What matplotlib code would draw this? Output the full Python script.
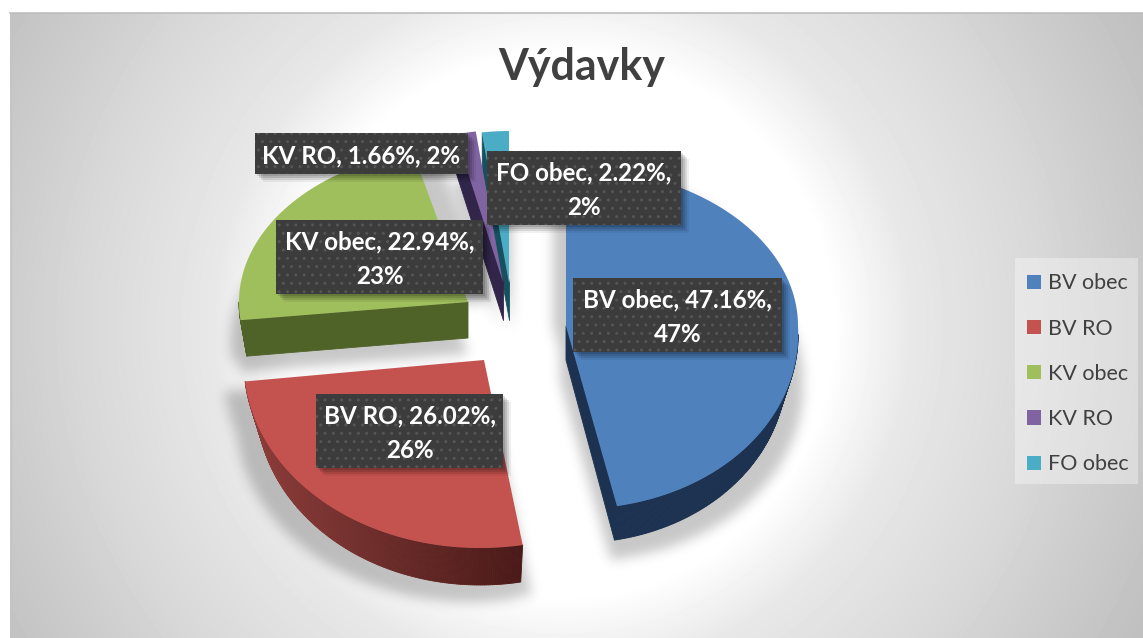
import numpy as np
import matplotlib
matplotlib.use("Agg")
import matplotlib.pyplot as plt
from matplotlib.colors import to_rgb
from matplotlib.collections import PolyCollection
from matplotlib.patches import Polygon, Rectangle, Patch
from matplotlib.path import Path

plt.rcParams['font.family'] = ['Lato', 'DejaVu Sans']

title = 'Výdavky'
categories = ['BV obec', 'BV RO', 'KV obec', 'KV RO', 'FO obec']
shares = [47.16, 26.02, 22.94, 1.66, 2.22]
rounded = [47, 26, 23, 2, 2]

top_colors = ['#4F81BD', '#C4524F', '#9FBF5C', '#8064A2', '#4BACC6']
side_left = ['#1C3250', '#8C3D3A', '#4F6228', '#31254A', '#17505F']
side_right = ['#1C3250', '#4A1A18', '#4F6228', '#31254A', '#17505F']

# apex x, apex y, rx, ry upper, ry lower, lean of the lower half
geometry = [
    (566, 326, 232, 159, 183, 10),
    (484, 360, 240, 170, 188, -4),
    (468, 302, 229, 155, 159, 0),
    (503, 282, 196, 152, 152, 0),
    (509, 283, 196, 152, 152, 0),
]
depths = [34, 37, 36, 38, 37]
pull_in = [0.05, 0.05, 0.028, 0, 0]

# where the soft shadow of each slice is thrown
shadow_offsets = [
    [(-13, 0), (5, 52), (-6, 54)],
    [(-20, 10), (9, 50), (-8, 54)],
    [(24, 0), (-8, 40), (0, 52)],
    [(-3, 48)],
    [(3, 48)],
]

# x0, y0, x1, y1 of the label boxes, and where the text wraps
boxes = [
    (573, 278, 782, 352, True),
    (316, 394, 503, 468, True),
    (276, 220, 483, 294, True),
    (255, 133, 468, 174, False),
    (487, 151, 681, 225, True),
]

W, H = 1143, 638
fig = plt.figure(figsize=(W / 100, H / 100), dpi=100, facecolor='white')
ax = fig.add_axes([0, 0, 1, 1])

# plot area background, white in the middle and grey to the corners
yy, xx = np.mgrid[13:H, 10:W]
r = np.hypot(xx - 562, yy - 325)
bg = np.interp(r, [270, 336, 348, 481, 540, 650], [255, 236, 232, 216, 207, 192]) / 255
ax.imshow(bg, extent=(10, W, H, 13), cmap='gray', vmin=0, vmax=1, zorder=0, aspect='auto')
ax.plot([10, W], [13, 13], color='#bdbdbd', lw=1.2, zorder=1)
ax.plot([10.5, 10.5], [13, H], color='#c4c4c4', lw=1, zorder=1)


def outline(start, stop, geo):
    ax0, ay0, rx, ry_up, ry_dn, lean = geo
    th = np.radians(np.linspace(start, stop, max(int(stop - start) * 2, 8)))
    u, v = np.sin(th), np.cos(th)
    x = ax0 + rx * u + lean * np.clip(-v, 0, None)
    y = ay0 - np.where(v > 0, ry_up, ry_dn) * v
    return np.r_[ax0, x], np.r_[ay0, y]


edges = np.cumsum([0] + shares) * 3.6
slices = [outline(edges[i], edges[i + 1], geometry[i]) for i in range(len(shares))]

# soft shadow under the pie
gy, gx = np.mgrid[0:H, 0:W]
pts = np.c_[gx.ravel() + 0.5, gy.ravel() + 0.5]
mask = np.zeros((H, W))
for (x, y), offs in zip(slices, shadow_offsets):
    for dx, dy in offs:
        mask += Path(np.c_[x + dx, y + dy]).contains_points(pts).reshape(H, W)
mask = np.clip(mask, 0, 1)
fy = np.fft.fftfreq(H)[:, None]
fx = np.fft.rfftfreq(W)[None, :]
sigma = 6
blur = np.fft.irfft2(np.fft.rfft2(mask) * np.exp(-2 * (np.pi * sigma) ** 2 * (fx ** 2 + fy ** 2)), s=(H, W))
rgba = np.zeros((H, W, 4))
rgba[..., 3] = np.clip(blur, 0, 1) * 0.22
ax.imshow(rgba, extent=(0, W, H, 0), zorder=2, aspect='auto')

# slices, far ones first
for z, i in enumerate([4, 3, 2, 1, 0]):
    x, y = slices[i]
    dep = depths[i]
    x_low = x + (x[0] - x) * pull_in[i]
    c0, c1 = np.array(to_rgb(side_left[i])), np.array(to_rgb(side_right[i]))
    quads, cols = [], []
    n = len(x)
    for k in range(n):
        j = (k + 1) % n
        if x[j] >= x[k]:
            continue  # faces away
        quads.append([(x[k], y[k]), (x[j], y[j]), (x_low[j], y[j] + dep), (x_low[k], y[k] + dep)])
        t = ((x[k] + x[j]) / 2 - x.min()) / (x.max() - x.min())
        cols.append(c0 + (c1 - c0) * t)
    ax.add_collection(PolyCollection(quads, facecolors=cols, edgecolors=cols, linewidths=0.6, zorder=3 + z * 0.1))
    ax.add_patch(Polygon(np.c_[x, y], closed=True, facecolor=top_colors[i], edgecolor='none', zorder=3.05 + z * 0.1))

# data labels
for i, (x0, y0, x1, y1, wrap) in enumerate(boxes):
    for off, a in [(2, 0.12), (4, 0.12), (6, 0.1), (8, 0.06)]:
        ax.add_patch(Rectangle((x0 + off, y0 + off), x1 - x0, y1 - y0, facecolor='black', edgecolor='none', alpha=a, zorder=4 + i * 0.1))
    ax.add_patch(Rectangle((x0, y0), x1 - x0, y1 - y0, facecolor='#3C3C3C', edgecolor='#555555', hatch='..', lw=0, zorder=4.01 + i * 0.1))
    sep = ',\n' if wrap else ', '
    txt = f'{categories[i]}, {shares[i]:.2f}%{sep}{rounded[i]}%'
    ax.text((x0 + x1) / 2, (y0 + y1) / 2 + 2, txt, color='white', fontsize=17.4, fontweight='bold',
            ha='center', va='center', linespacing=1.6, zorder=4.02 + i * 0.1)

ax.text(582, 67, title, color='#404040', fontsize=31, fontweight='bold', ha='center', va='center', zorder=5)

# legend
ax.add_patch(Rectangle((1015, 258), 123, 226, facecolor='white', edgecolor='none', alpha=0.35, zorder=5))
handles = [Patch(facecolor=c, edgecolor='none', label=n) for c, n in zip(top_colors, categories)]
leg = ax.legend(handles=handles, loc='upper left', bbox_to_anchor=(1027 / W, 1 - 273.5 / H), bbox_transform=fig.transFigure,
                frameon=False, fontsize=15.5, labelcolor='#404040', handlelength=0.65, handleheight=0.65,
                handletextpad=0.33, labelspacing=1.17, borderpad=0, borderaxespad=0)
leg.set_zorder(6)

ax.set_xlim(0, W)
ax.set_ylim(H, 0)
ax.axis('off')

fig.savefig('out.png', dpi=100)
